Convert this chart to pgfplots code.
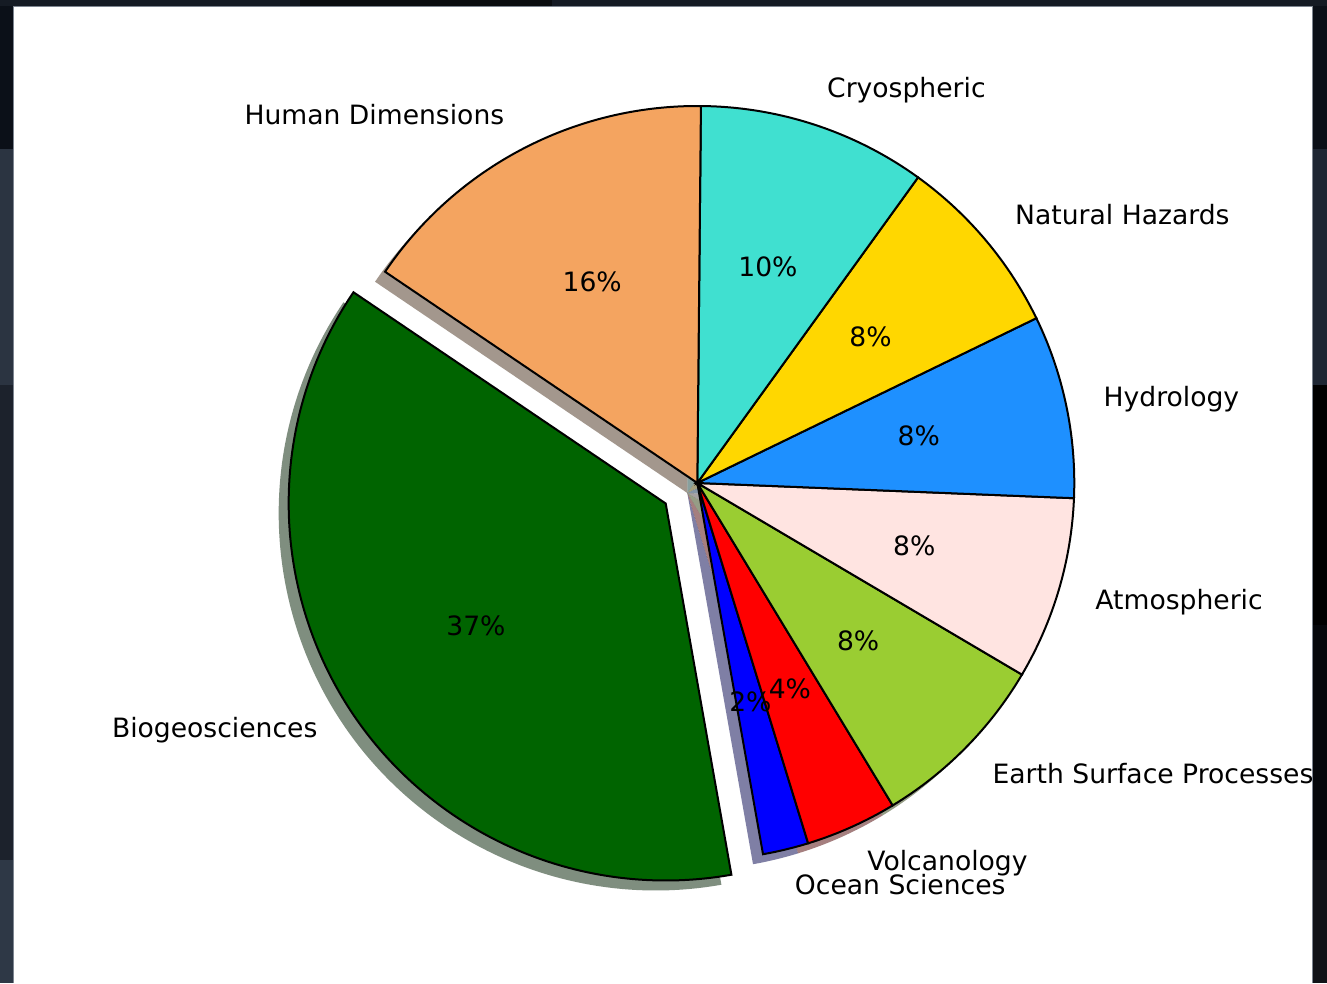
\documentclass[border=0pt]{standalone}
\usepackage{pgfplots}
\pgfplotsset{compat=1.18}
\usepackage{fontspec}
\setmainfont{DejaVu Sans}
\definecolor{cBio}{HTML}{006400}
\definecolor{cHum}{HTML}{F4A460}
\definecolor{cCry}{HTML}{40E0D0}
\definecolor{cNat}{HTML}{FFD700}
\definecolor{cHyd}{HTML}{1E90FF}
\definecolor{cAtm}{HTML}{FFE4E1}
\definecolor{cEsp}{HTML}{9ACD32}
\definecolor{cVol}{HTML}{FF0000}
\definecolor{cOce}{HTML}{0000FF}
\definecolor{bgA}{HTML}{0B1018}
\definecolor{bgB}{HTML}{2B3441}
\definecolor{bgC}{HTML}{1C222C}
\definecolor{bgD}{HTML}{2E3846}
\definecolor{bgE}{HTML}{1E2633}
\definecolor{bgF}{HTML}{05070B}
\definecolor{bgG}{HTML}{111318}
\definecolor{bgH}{HTML}{151B24}
\definecolor{bgI}{HTML}{0A0D10}
\definecolor{edgeG}{HTML}{7D8590}
\tikzset{lab/.style={inner sep=0pt, text height=0.76em, text depth=0.208em, yshift=-1.6pt, font=\fontsize{13.3}{16}\selectfont, text=black}}
% counts (counter-clockwise from the start angle):
% Ocean Sciences 1, Volcanology 2, Earth Surface Processes 4, Atmospheric 4,
% Hydrology 4, Natural Hazards 4, Cryospheric 5, Human Dimensions 8, Biogeosciences 19 (total 51)
\pgfmathsetmacro\bA{-79.962}
\pgfmathsetmacro\bB{\bA+1*360/51}
\pgfmathsetmacro\bC{\bB+2*360/51}
\pgfmathsetmacro\bD{\bC+4*360/51}
\pgfmathsetmacro\bE{\bD+4*360/51}
\pgfmathsetmacro\bF{\bE+4*360/51}
\pgfmathsetmacro\bG{\bF+4*360/51}
\pgfmathsetmacro\bH{\bG+5*360/51}
\pgfmathsetmacro\bI{\bH+8*360/51}
\pgfmathsetmacro\bJ{\bI+19*360/51}
\pgfmathsetmacro\mA{(\bA+\bB)/2}
\pgfmathsetmacro\mB{(\bB+\bC)/2}
\pgfmathsetmacro\mC{(\bC+\bD)/2}
\pgfmathsetmacro\mD{(\bD+\bE)/2}
\pgfmathsetmacro\mE{(\bE+\bF)/2}
\pgfmathsetmacro\mF{(\bF+\bG)/2}
\pgfmathsetmacro\mG{(\bG+\bH)/2}
\pgfmathsetmacro\mH{(\bH+\bI)/2}
\pgfmathsetmacro\mI{(\bI+\bJ)/2}
\newcommand{\wedgeplot}[5]{%
  \addplot[draw=black, line width=1pt, fill=#5] coordinates {(#1,#2)} -- ++(#3:188.5pt) arc[start angle=#3, end angle=#4, radius=188.5pt] -- cycle;}
\newcommand{\shadowplot}[5]{%
  \addplot[draw=none, fill=#5!30!black, fill opacity=0.5] coordinates {(#1,#2)} -- ++(#3:188.5pt) arc[start angle=#3, end angle=#4, radius=188.5pt] -- cycle;}
\begin{document}
\begin{tikzpicture}
\begin{axis}[x=0.5pt, y=0.5pt, xmin=0, xmax=1327, ymin=0, ymax=983, hide axis, clip=false]
\fill[white] (axis cs:0,0) rectangle (axis cs:1327,983);
% shadows
\shadowplot{687.3}{490}{\bA}{\bB}{cOce}
\shadowplot{687.3}{490}{\bB}{\bC}{cVol}
\shadowplot{687.3}{490}{\bC}{\bD}{cEsp}
\shadowplot{687.3}{490}{\bD}{\bE}{cAtm}
\shadowplot{687.3}{490}{\bE}{\bF}{cHyd}
\shadowplot{687.3}{490}{\bF}{\bG}{cNat}
\shadowplot{687.3}{490}{\bG}{\bH}{cCry}
\shadowplot{687.3}{490}{\bH}{\bI}{cHum}
\shadowplot{655.70}{469.49}{\bI}{\bJ}{cBio}
% wedges
\wedgeplot{697.3}{500}{\bA}{\bB}{cOce}
\wedgeplot{697.3}{500}{\bB}{\bC}{cVol}
\wedgeplot{697.3}{500}{\bC}{\bD}{cEsp}
\wedgeplot{697.3}{500}{\bD}{\bE}{cAtm}
\wedgeplot{697.3}{500}{\bE}{\bF}{cHyd}
\wedgeplot{697.3}{500}{\bF}{\bG}{cNat}
\wedgeplot{697.3}{500}{\bG}{\bH}{cCry}
\wedgeplot{697.3}{500}{\bH}{\bI}{cHum}
\wedgeplot{665.70}{479.49}{\bI}{\bJ}{cBio}
% labels
\node[lab, anchor=west] at ([shift={(\mA:207.35pt)}]axis cs:697.3,500) {Ocean Sciences};
\node[lab, anchor=west] at ([shift={(\mB:207.35pt)}]axis cs:697.3,500) {Volcanology};
\node[lab, anchor=west] at ([shift={(\mC:207.35pt)}]axis cs:697.3,500) {Earth Surface Processes};
\node[lab, anchor=west] at ([shift={(\mD:207.35pt)}]axis cs:697.3,500) {Atmospheric};
\node[lab, anchor=west] at ([shift={(\mE:207.35pt)}]axis cs:697.3,500) {Hydrology};
\node[lab, anchor=west] at ([shift={(\mF:207.35pt)}]axis cs:697.3,500) {Natural Hazards};
\node[lab, anchor=west] at ([shift={(\mG:207.35pt)}]axis cs:697.3,500) {Cryospheric};
\node[lab, anchor=east] at ([shift={(\mH:207.35pt)}]axis cs:697.3,500) {Human Dimensions};
\node[lab, anchor=east] at ([shift={(\mI:207.35pt)}]axis cs:665.70,479.49) {Biogeosciences};
% percentages
\node[lab] at ([shift={(\mA:113.1pt)}]axis cs:697.3,500) {2\%};
\node[lab] at ([shift={(\mB:113.1pt)}]axis cs:697.3,500) {4\%};
\node[lab] at ([shift={(\mC:113.1pt)}]axis cs:697.3,500) {8\%};
\node[lab] at ([shift={(\mD:113.1pt)}]axis cs:697.3,500) {8\%};
\node[lab] at ([shift={(\mE:113.1pt)}]axis cs:697.3,500) {8\%};
\node[lab] at ([shift={(\mF:113.1pt)}]axis cs:697.3,500) {8\%};
\node[lab] at ([shift={(\mG:113.1pt)}]axis cs:697.3,500) {10\%};
\node[lab] at ([shift={(\mH:113.1pt)}]axis cs:697.3,500) {16\%};
\node[lab] at ([shift={(\mI:113.1pt)}]axis cs:665.70,479.49) {37\%};
% screenshot frame
\fill[bgA] (axis cs:0,834) rectangle (axis cs:13.3,983);
\fill[bgB] (axis cs:0,598) rectangle (axis cs:13.3,834);
\fill[bgC] (axis cs:0,123) rectangle (axis cs:13.3,598);
\fill[bgD] (axis cs:0,0) rectangle (axis cs:13.3,123);
\fill[bgA] (axis cs:1313.3,834) rectangle (axis cs:1327,983);
\fill[bgE] (axis cs:1313.3,598) rectangle (axis cs:1327,834);
\fill[black] (axis cs:1313.3,358) rectangle (axis cs:1327,598);
\fill[bgF] (axis cs:1313.3,123) rectangle (axis cs:1327,358);
\fill[bgG] (axis cs:1313.3,0) rectangle (axis cs:1327,123);
\fill[bgH] (axis cs:0,976.5) rectangle (axis cs:300,983);
\fill[bgI] (axis cs:300,976.5) rectangle (axis cs:552,983);
\fill[bgH] (axis cs:552,976.5) rectangle (axis cs:1327,983);
\draw[edgeG, line width=0.5pt] (axis cs:13.8,0) -- (axis cs:13.8,976) -- (axis cs:1312.8,976) -- (axis cs:1312.8,0);
\end{axis}
\end{tikzpicture}
\end{document}
